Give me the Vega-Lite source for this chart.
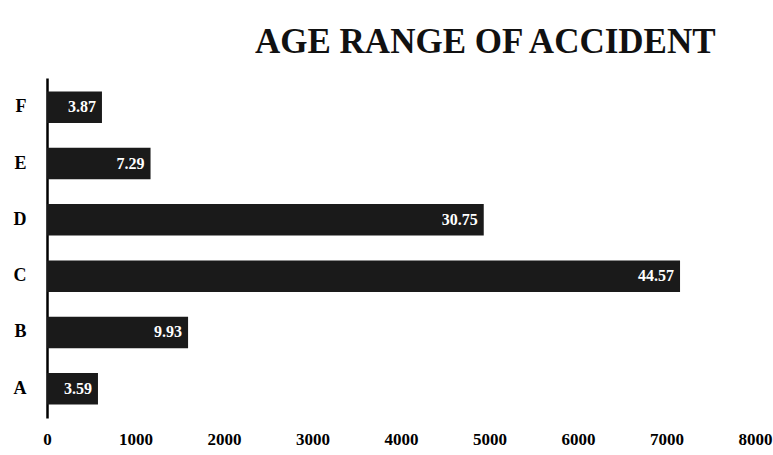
{
  "$schema": "https://vega.github.io/schema/vega-lite/v6.json",
  "width": 708,
  "height": 340,
  "autosize": {"type": "none"},
  "padding": {"left": 47, "top": 78, "right": 18, "bottom": 37},
  "background": "#ffffff",
  "config": {"view": {"stroke": null}},
  "title": {
    "text": "AGE RANGE OF ACCIDENT",
    "font": "Liberation Serif",
    "fontSize": 35,
    "fontWeight": "bold",
    "color": "#111111",
    "anchor": "start",
    "frame": "group",
    "dx": 208,
    "offset": 18
  },
  "data": {
    "values": [
      {"range": "A", "count": 576, "pct": "3.59"},
      {"range": "B", "count": 1594, "pct": "9.93"},
      {"range": "C", "count": 7153, "pct": "44.57"},
      {"range": "D", "count": 4935, "pct": "30.75"},
      {"range": "E", "count": 1170, "pct": "7.29"},
      {"range": "F", "count": 621, "pct": "3.87"}
    ]
  },
  "encoding": {
    "y": {
      "field": "range",
      "type": "nominal",
      "sort": "descending",
      "scale": {"paddingInner": 0.44, "paddingOuter": 0.24},
      "axis": {
        "title": null,
        "ticks": false,
        "domainColor": "#000000",
        "domainWidth": 2.5,
        "labelFont": "Liberation Serif",
        "labelFontWeight": "bold",
        "labelFontSize": 18,
        "labelColor": "#000000",
        "labelPadding": 21
      }
    },
    "x": {
      "field": "count",
      "type": "quantitative",
      "scale": {"domain": [0, 8000], "nice": false},
      "axis": {
        "title": null,
        "format": "d",
        "values": [0, 1000, 2000, 3000, 4000, 5000, 6000, 7000, 8000],
        "grid": false,
        "ticks": false,
        "domain": false,
        "labelFont": "Liberation Serif",
        "labelFontWeight": "bold",
        "labelFontSize": 17,
        "labelColor": "#000000",
        "labelPadding": 13,
        "labelFlush": false
      }
    }
  },
  "layer": [
    {"mark": {"type": "bar", "color": "#1a1a1a"}},
    {
      "mark": {
        "type": "text",
        "align": "right",
        "dx": -6,
        "color": "#ffffff",
        "font": "Liberation Serif",
        "fontWeight": "bold",
        "fontSize": 16
      },
      "encoding": {"text": {"field": "pct"}}
    }
  ]
}
